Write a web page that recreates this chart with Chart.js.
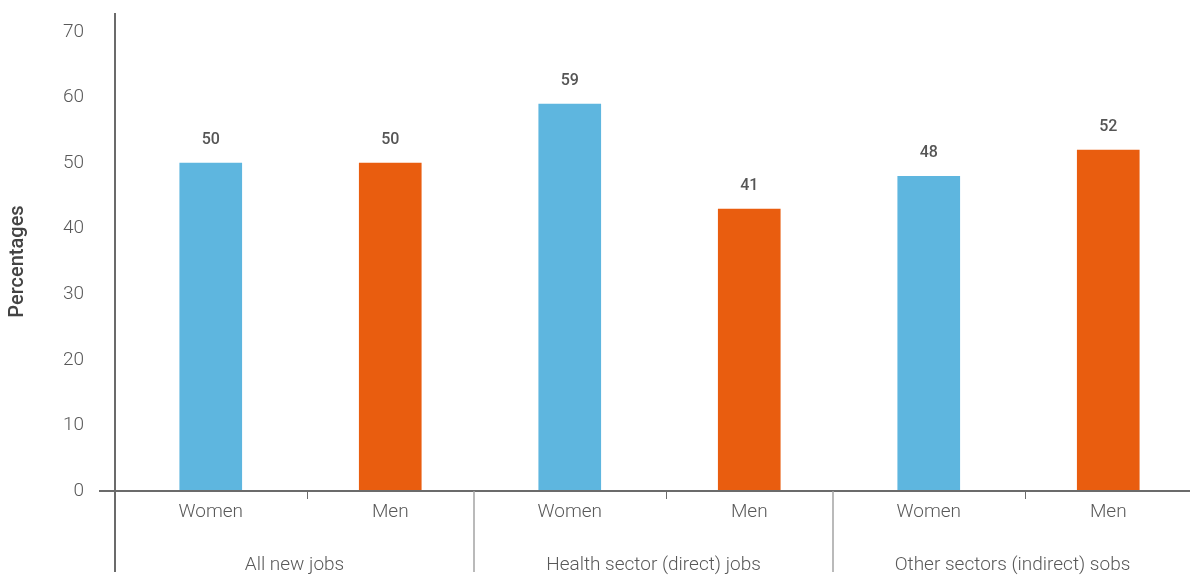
<!DOCTYPE html>
<html>
<head>
<meta charset="utf-8">
<script src="https://cdn.jsdelivr.net/npm/chart.js@4"></script>
<style>
  html, body { margin: 0; padding: 0; background: #fff; overflow: hidden; }
  #wrap { width: 1198px; height: 577px; }
</style>
</head>
<body>
<div id="wrap"><canvas id="chart_jobs" width="1198" height="577"></canvas></div>
<script>
// categories and groups
const subLabels = ['Women', 'Men', 'Women', 'Men', 'Women', 'Men'];
const groupLabels = ['All new jobs', 'Health sector (direct) jobs', 'Other sectors (indirect) sobs'];
// bar heights as drawn in the picture, and the printed value labels
const barValues = [50, 50, 59, 43, 48, 52];
const valueLabels = ['50', '50', '59', '41', '48', '52'];
const yTicks = [0, 10, 20, 30, 40, 50, 60, 70];

const BLUE = '#5EB6DF';
const ORANGE = '#E95D0F';
const barColors = subLabels.map(s => (s === 'Women' ? BLUE : ORANGE));

const AXIS_COLOR = '#6b6b6b';
const SEP_COLOR = '#a3a3a3';
const TEXT_COLOR = '#595959';
const LIGHT_FONT = '300 19px Roboto, "Liberation Sans", sans-serif';
const FRAME_SHIFT = 6; // the axis frame sits a little left of the bar slots

const jobsPlugin = {
  id: 'jobsFrame',
  afterDatasetsDraw(chart) {
    const { ctx, chartArea, scales } = chart;
    const x = scales.x;
    const y = scales.y;
    const y0 = y.getPixelForValue(0);
    const axisX = chartArea.left - FRAME_SHIFT;
    const bottom = 572;
    const px = (i) => x.getPixelForValue(i);
    const half = (px(1) - px(0)) / 2;

    ctx.save();
    // vertical axis
    ctx.strokeStyle = AXIS_COLOR;
    ctx.lineWidth = 2;
    ctx.beginPath();
    ctx.moveTo(axisX, 13);
    ctx.lineTo(axisX, bottom);
    ctx.stroke();
    // baseline
    ctx.beginPath();
    ctx.moveTo(99, y0);
    ctx.lineTo(1190, y0);
    ctx.stroke();

    // group separators, inner ticks and labels
    const nGroups = groupLabels.length;
    const bounds = [];
    for (let g = 0; g <= nGroups; g++) {
      if (g === 0) bounds.push(axisX);
      else if (g === nGroups) bounds.push(px(subLabels.length - 1) + half - FRAME_SHIFT);
      else bounds.push((px(2 * g - 1) + px(2 * g)) / 2 - FRAME_SHIFT);
    }
    ctx.strokeStyle = SEP_COLOR;
    ctx.lineWidth = 1.5;
    for (let g = 1; g < nGroups; g++) {
      ctx.beginPath();
      ctx.moveTo(bounds[g], y0);
      ctx.lineTo(bounds[g], bottom);
      ctx.stroke();
    }
    ctx.strokeStyle = AXIS_COLOR;
    ctx.lineWidth = 1;
    for (let g = 0; g < nGroups; g++) {
      const tx = Math.round((px(2 * g) + px(2 * g + 1)) / 2 + FRAME_SHIFT) + 0.5;
      ctx.beginPath();
      ctx.moveTo(tx, y0);
      ctx.lineTo(tx, y0 + 8);
      ctx.stroke();
    }

    ctx.fillStyle = TEXT_COLOR;
    ctx.font = LIGHT_FONT;
    ctx.textAlign = 'center';
    ctx.textBaseline = 'middle';
    subLabels.forEach((s, i) => ctx.fillText(s, px(i), 512));
    groupLabels.forEach((s, g) => ctx.fillText(s, (bounds[g] + bounds[g + 1]) / 2, 565));

    // value labels
    ctx.font = '500 16px Roboto, "Liberation Sans", sans-serif';
    ctx.fillStyle = '#555';
    const meta = chart.getDatasetMeta(0);
    meta.data.forEach((bar, i) => {
      ctx.fillText(valueLabels[i], bar.x, bar.y - 23);
    });

    // y title
    ctx.translate(18, (chartArea.top + chartArea.bottom) / 2);
    ctx.rotate(-Math.PI / 2);
    ctx.font = '500 20px Roboto, "Liberation Sans", sans-serif';
    ctx.fillStyle = '#444';
    ctx.fillText('Percentages', 0, 0);
    ctx.restore();
  }
};

new Chart(document.getElementById('chart_jobs').getContext('2d'), {
  type: 'bar',
  data: {
    labels: subLabels,
    datasets: [{
      data: barValues,
      backgroundColor: barColors,
      borderWidth: 0,
      barThickness: 62
    }]
  },
  options: {
    responsive: false,
    animation: false,
    layout: { padding: { top: 32, bottom: 86, left: 0, right: 0 } },
    plugins: {
      legend: { display: false },
      tooltip: { enabled: false }
    },
    scales: {
      x: {
        display: false,
        offset: true
      },
      y: {
        min: 0,
        max: 70,
        afterBuildTicks: (scale) => { scale.ticks = yTicks.map(v => ({ value: v })); },
        afterFit: (scale) => {
          scale.width = 121;
          scale.paddingTop = 0;
          scale.paddingBottom = 0;
        },
        grid: { display: false, drawTicks: false },
        border: { display: false },
        ticks: {
          padding: 37,
          color: TEXT_COLOR,
          font: { family: 'Roboto', size: 19, weight: '300' }
        }
      }
    }
  },
  plugins: [jobsPlugin]
});
</script>
</body>
</html>
